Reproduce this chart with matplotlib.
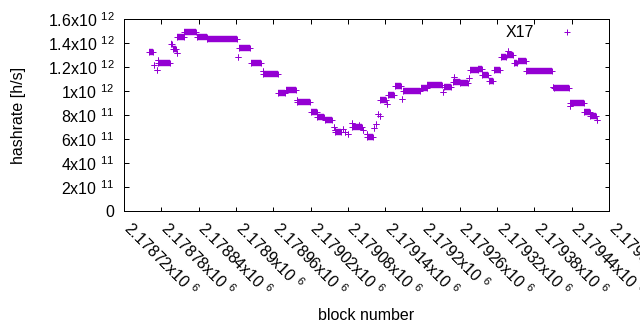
import matplotlib
matplotlib.use("Agg")
import matplotlib.pyplot as plt
from matplotlib.transforms import ScaledTranslation

plt.rcParams['font.family'] = ['Liberation Sans', 'DejaVu Sans']
plt.rcParams['mathtext.fontset'] = 'custom'
plt.rcParams['mathtext.rm'] = 'Liberation Sans'
plt.rcParams['mathtext.it'] = 'Liberation Sans:italic'
plt.rcParams['mathtext.bf'] = 'Liberation Sans:bold'

# Each run: first block, last block, hashrate (constant over the run)
seg_start = [2178761, 2178768, 2178773, 2178774, 2178775, 2178795, 2178798, 2178805,
             2178806, 2178817, 2178837, 2178854, 2178904, 2178905, 2178924, 2178943,
             2178944, 2178968, 2178980, 2178998, 2178999, 2179020, 2179031, 2179043,
             2179057, 2179059, 2179060, 2179072, 2179075, 2179081, 2179086, 2179087,
             2179098, 2179105, 2179110, 2179111, 2179122, 2179126, 2179129, 2179131,
             2179132, 2179143, 2179145, 2179156, 2179167, 2179168, 2179197, 2179208,
             2179233, 2179234, 2179249, 2179250, 2179261, 2179275, 2179277, 2179290,
             2179296, 2179307, 2179315, 2179326, 2179336, 2179338, 2179347, 2179353,
             2179367, 2179410, 2179411, 2179437, 2179438, 2179460, 2179470, 2179480]
seg_end = [2178766, 2178768, 2178773, 2178774, 2178794, 2178797, 2178804, 2178805,
           2178816, 2178836, 2178853, 2178902, 2178904, 2178922, 2178941, 2178943,
           2178967, 2178979, 2178996, 2178998, 2179019, 2179030, 2179042, 2179055,
           2179057, 2179059, 2179069, 2179072, 2179075, 2179081, 2179086, 2179103,
           2179098, 2179105, 2179110, 2179121, 2179122, 2179126, 2179129, 2179131,
           2179142, 2179143, 2179155, 2179166, 2179167, 2179196, 2179207, 2179231,
           2179233, 2179246, 2179260, 2179250, 2179274, 2179275, 2179289, 2179295,
           2179306, 2179314, 2179325, 2179335, 2179346, 2179338, 2179352, 2179366,
           2179409, 2179410, 2179435, 2179459, 2179438, 2179469, 2179479, 2179480]
seg_value = [1.322e12, 1.217e12, 1.175e12, 1.26e12, 1.231e12, 1.39e12, 1.352e12, 1.314e12,
             1.447e12, 1.49e12, 1.453e12, 1.432e12, 1.281e12, 1.357e12, 1.231e12, 1.165e12,
             1.139e12, 0.981e12, 1.006e12, 0.925e12, 0.905e12, 0.822e12, 0.782e12, 0.755e12,
             0.703e12, 0.675e12, 0.661e12, 0.685e12, 0.661e12, 0.645e12, 0.733e12, 0.703e12,
             0.72e12, 0.675e12, 0.64e12, 0.619e12, 0.689e12, 0.728e12, 0.81e12, 0.79e12,
             0.927e12, 0.888e12, 0.97e12, 1.039e12, 0.931e12, 0.997e12, 1.025e12, 1.047e12,
             0.994e12, 1.03e12, 1.075e12, 1.117e12, 1.065e12, 1.106e12, 1.173e12, 1.183e12,
             1.13e12, 1.082e12, 1.178e12, 1.281e12, 1.297e12, 1.335e12, 1.231e12, 1.248e12,
             1.164e12, 1.036e12, 1.023e12, 0.897e12, 0.875e12, 0.822e12, 0.794e12, 0.76e12]

x_ticks = [2178720, 2178780, 2178840, 2178900, 2178960, 2179020, 2179080,
           2179140, 2179200, 2179260, 2179320, 2179380, 2179440, 2179500]
x_tick_labels = ["2.17872", "2.17878", "2.17884", "2.1789", "2.17896", "2.17902", "2.17908",
                 "2.17914", "2.1792", "2.17926", "2.17932", "2.17938", "2.17944", "2.1795"]
y_ticks = [0, 2e11, 4e11, 6e11, 8e11, 1e12, 1.2e12, 1.4e12, 1.6e12]
y_tick_labels = [("0", None), ("2", "11"), ("4", "11"), ("6", "11"), ("8", "11"),
                 ("1", "12"), ("1.2", "12"), ("1.4", "12"), ("1.6", "12")]

color = "#9400D3"
dpi = 100
px = 72 / dpi
fs = 11.5
fig = plt.figure(figsize=(6.4, 3.3), dpi=dpi)
ax = fig.add_axes([124 / 640, 1 - 211 / 330, (609 - 124) / 640, (211 - 19) / 330])

ms = 6.4 * px
for s, e, v in zip(seg_start, seg_end, seg_value):
    if e > s:
        ax.plot([s, e], [v, v], color=color, lw=ms, solid_capstyle='butt')
ax.plot(seg_start + seg_end, seg_value + seg_value, linestyle='none', marker='+',
        color=color, markersize=ms, markeredgewidth=1.0 * px, label='X17')

ax.set_xlim(2178720, 2179500)
ax.set_ylim(0, 1.6e12)

ax.set_xticks(x_ticks)
ax.set_xticklabels([r"$\mathregular{%sx10^{\,\,\,6}}$" % t for t in x_tick_labels],
                   rotation=-45, ha='left', va='baseline', rotation_mode='anchor')
ax.set_yticks(y_ticks)
ax.set_yticklabels([m if ex is None else r"$\mathregular{%sx10^{\,\,\,%s}}$" % (m, ex)
                    for m, ex in y_tick_labels])

ax.tick_params(direction='in', top=True, right=True, length=4.5 * px,
               width=1 * px, labelsize=fs, colors='black')
ax.tick_params(axis='y', pad=7)
ax.tick_params(axis='x', pad=13.5)
off = ScaledTranslation(-2.0 / dpi, 0, fig.dpi_scale_trans)
for lbl in ax.get_xticklabels():
    lbl.set_transform(lbl.get_transform() + off)
for sp in ax.spines.values():
    sp.set_linewidth(1 * px)

ax.set_xlabel("block number", fontsize=fs, va='center')
ax.xaxis.set_label_coords(0.5, (211 - 315) / 192)
ax.set_ylabel("hashrate [h/s]", fontsize=fs, va='center')
ax.yaxis.set_label_coords((19 - 124) / 485, 0.5)

leg = ax.legend(loc='upper right', frameon=False, markerfirst=False, fontsize=fs,
                handlelength=2.2, handletextpad=1.0, borderaxespad=0.0,
                bbox_to_anchor=(0.9637, 1.0005))

fig.savefig("out.png", dpi=dpi)
